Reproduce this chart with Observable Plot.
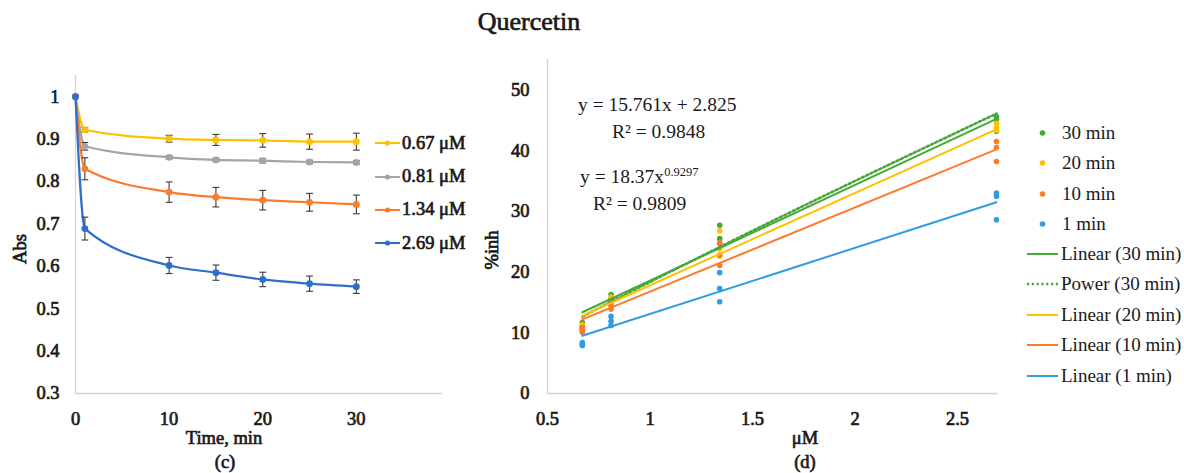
<!DOCTYPE html>
<html>
<head>
<meta charset="utf-8">
<script src="https://cdn.jsdelivr.net/npm/d3@7"></script>
<script src="https://cdn.jsdelivr.net/npm/@observablehq/plot@0.6"></script>
<style>
  html, body { margin: 0; padding: 0; background: #fff; }
  #wrap { position: relative; width: 1184px; height: 473px; overflow: hidden; background: #fff;
          font-family: "Liberation Serif", serif; color: #1a1a1a; }
  .abs { position: absolute; white-space: nowrap; }
  .bold { font-weight: normal; -webkit-text-stroke: 0.7px #1a1a1a; }
  .ctr { transform: translate(-50%, -50%); }
  .rot { transform: translate(-50%, -50%) rotate(-90deg); }
  .eq { font-size: 19.5px; line-height: 22px; }
  .eq sup { font-size: 12.5px; vertical-align: 7px; line-height: 0; }
  .leg { position: absolute; display: flex; align-items: center; white-space: nowrap; }
  #wrap svg { position: absolute; top: 0; }
  #wrap svg text { stroke: #1a1a1a; stroke-width: 0.7px; }
</style>
</head>
<body>
<div id="wrap"></div>
<script>
// ---------- Panel (c): absorbance vs time ----------
const timesC = [0, 1, 10, 15, 20, 25, 30];
const seriesC = ["0.67 μM", "0.81 μM", "1.34 μM", "2.69 μM"];
const colorsC = ["#ffc000", "#a5a5a5", "#fb7b2e", "#2d6fcb"];
const abs067 = [1, 0.922, 0.901, 0.898, 0.897, 0.894, 0.894];
const err067 = [0, 0.005, 0.008, 0.013, 0.016, 0.018, 0.020];
const abs081 = [1, 0.883, 0.857, 0.851, 0.849, 0.846, 0.845];
const err081 = [0, 0.009, 0.004, 0.004, 0.005, 0.004, 0.004];
const abs134 = [1, 0.830, 0.775, 0.763, 0.756, 0.751, 0.746];
const err134 = [0, 0.026, 0.024, 0.023, 0.023, 0.021, 0.022];
const abs269 = [1, 0.689, 0.602, 0.585, 0.569, 0.559, 0.552];
const err269 = [0, 0.027, 0.019, 0.018, 0.017, 0.018, 0.016];
const yTicksC = [0.3, 0.4, 0.5, 0.6, 0.7, 0.8, 0.9, 1];
const xTicksC = [0, 10, 20, 30];

// ---------- Panel (d): %inhibition vs concentration ----------
const concs = [0.67, 0.81, 1.34, 2.69];
const seriesD = ["30 min", "20 min", "10 min", "1 min"];
const colorsD = ["#47a83a", "#ffc000", "#fb7b2e", "#2f9de0"];
const inh30 = [[11.7, 11.0, 10.6], [16.3, 15.6, 15.2], [27.7, 25.5, 24.7], [45.6, 45.1, 43.2]];
const inh20 = [[11.3, 10.8, 10.4], [15.9, 15.0, 14.6], [26.8, 23.8, 22.6], [44.5, 43.8, 43.3]];
const inh10 = [[10.9, 10.4, 10.1], [15.2, 14.5, 13.9], [24.8, 22.8, 21.1], [41.5, 40.5, 38.2]];
const inh1  = [[8.4, 8.1, 7.9], [12.7, 11.9, 11.2], [19.9, 17.3, 15.1], [33.0, 32.5, 28.6]];
const trendX = [0.67, 2.69];
const lin30 = [13.38, 45.22];
const lin20 = [12.8, 43.5];
const lin10 = [12.2, 40.2];
const lin1  = [9.5, 31.5];
const pow30 = [12.66, 15.10, 24.12, 46.09];
const trendNames = ["Linear (30 min)", "Power (30 min)", "Linear (20 min)", "Linear (10 min)", "Linear (1 min)"];
const trendColors = ["#47a83a", "#47a83a", "#ffc000", "#fb7b2e", "#2f9de0"];
const yTicksD = [0, 10, 20, 30, 40, 50];
const xTicksD = [0.5, 1, 1.5, 2, 2.5];

// ---------- build tables ----------
const absSets = [abs067, abs081, abs134, abs269];
const errSets = [err067, err081, err134, err269];
const tableC = [];
seriesC.forEach((s, i) => timesC.forEach((t, j) => tableC.push({series: s, t, v: absSets[i][j], e: errSets[i][j]})));
const errRows = tableC.filter(d => d.e > 0);
const caps = errRows.flatMap(d => [{t: d.t, y: d.v - d.e}, {t: d.t, y: d.v + d.e}]);

const inhSets = [inh30, inh20, inh10, inh1];
const tableD = [];
seriesD.forEach((s, i) => concs.forEach((c, j) => inhSets[i][j].forEach(v => tableD.push({series: s, x: c, y: v}))));
const linSets = [lin30, lin20, lin10, lin1];
const trendTable = [];
seriesD.forEach((s, i) => trendX.forEach((x, j) => trendTable.push({series: s, x, y: linSets[i][j]})));
const powTable = concs.map((x, j) => ({x, y: pow30[j]}));

const capSymbol = { draw(ctx, size) { const r = Math.sqrt(size / Math.PI); ctx.moveTo(-r, 0); ctx.lineTo(r, 0); } };

const fontFam = '"Liberation Serif", serif';
const axisGray = "#d4d4d4";

const plotC = Plot.plot({
  width: 480, height: 473,
  marginLeft: 75, marginRight: 38, marginTop: 75, marginBottom: 80,
  x: {domain: [0, 39.2]},
  y: {domain: [0.3, 1.05]},
  color: {domain: seriesC, range: colorsC},
  style: {fontFamily: fontFam, fontSize: "18.5px", fontWeight: "normal", color: "#1a1a1a", background: "transparent", overflow: "visible"},
  marks: [
    Plot.ruleX([0], {stroke: axisGray, strokeWidth: 1.3}),
    Plot.ruleY([0.3], {stroke: axisGray, strokeWidth: 1.3}),
    Plot.axisY({ticks: yTicksC, tickSize: 0, tickPadding: 16, label: null, tickFormat: d => String(d)}),
    Plot.axisX({ticks: xTicksC, tickSize: 0, tickPadding: 18, label: null, tickFormat: d => String(d)}),
    Plot.line(tableC, {x: "t", y: "v", stroke: "series", z: "series", curve: "monotone-x", strokeWidth: 2.2}),
    Plot.link(errRows, {x1: "t", x2: "t", y1: d => d.v - d.e, y2: d => d.v + d.e, stroke: "#3a3a3a", strokeWidth: 1.1}),
    Plot.dot(caps, {x: "t", y: "y", symbol: capSymbol, r: 3.4, stroke: "#3a3a3a", strokeWidth: 1.1, fill: "none"}),
    Plot.dot(tableC, {x: "t", y: "v", fill: "series", r: 3.4})
  ]
});

const plotD = Plot.plot({
  width: 704, height: 473,
  marginLeft: 67, marginRight: 186, marginTop: 59, marginBottom: 80,
  x: {domain: [0.5, 2.7]},
  y: {domain: [0, 55]},
  color: {domain: seriesD, range: colorsD},
  style: {fontFamily: fontFam, fontSize: "18.5px", fontWeight: "normal", color: "#1a1a1a", background: "transparent", overflow: "visible"},
  marks: [
    Plot.ruleX([0.5], {stroke: axisGray, strokeWidth: 1.3}),
    Plot.ruleY([0], {stroke: axisGray, strokeWidth: 1.3}),
    Plot.axisY({ticks: yTicksD, tickSize: 0, tickPadding: 18, label: null, tickFormat: d => String(d)}),
    Plot.axisX({ticks: xTicksD, tickSize: 0, tickPadding: 18, label: null, tickFormat: d => String(d)}),
    Plot.dot(tableD, {x: "x", y: "y", fill: "series", r: 2.8}),
    Plot.line(trendTable.filter(d => d.series === "30 min"), {x: "x", y: "y", stroke: "series", strokeWidth: 2}),
    Plot.line(powTable, {x: "x", y: "y", stroke: colorsD[0], strokeWidth: 2.6, strokeDasharray: "2.2 2.6", curve: "monotone-x"}),
    Plot.line(trendTable.filter(d => d.series !== "30 min"), {x: "x", y: "y", stroke: "series", z: "series", strokeWidth: 2})
  ]
});
plotD.style.left = "480px";
plotC.style.left = "0px";

const wrap = document.getElementById("wrap");
wrap.appendChild(plotC);
wrap.appendChild(plotD);

function addText(html, left, top, cls, size) {
  const d = document.createElement("div");
  d.className = "abs " + cls;
  d.style.left = left + "px";
  d.style.top = top + "px";
  if (size) d.style.fontSize = size + "px";
  d.innerHTML = html;
  wrap.appendChild(d);
  return d;
}
// titles and captions
addText("Quercetin", 529, 22, "bold ctr", 26);
addText("Time, min", 224, 438, "bold ctr", 18.5);
addText("(c)", 225, 462, "bold ctr", 18.5);
addText("μM", 805, 438, "bold ctr", 18.5);
addText("(d)", 805, 462, "bold ctr", 18.5);
addText("Abs", 20, 249, "bold rot", 18.5);
addText("%inh", 492, 250, "bold rot", 18.5);
// equations
addText("y = 15.761x + 2.825", 578, 94, "eq");
addText("R² = 0.9848", 612, 121, "eq");
addText("y = 18.37x<sup>0.9297</sup>", 580, 166, "eq");
addText("R² = 0.9809", 593, 193, "eq");

// legends
function legendItem(left, centerY, w, color, label, opts) {
  const d = document.createElement("div");
  d.className = "leg" + (opts.bold ? " bold" : "");
  d.style.left = left + "px";
  d.style.top = (centerY - 12) + "px";
  d.style.height = "24px";
  d.style.fontSize = opts.size + "px";
  let svg = `<svg width="${w}" height="24" style="position:static;display:block">`;
  if (opts.line) svg += `<line x1="0" x2="${w}" y1="12" y2="12" stroke="${color}" stroke-width="${opts.dash ? 2.6 : 2}" ${opts.dash ? 'stroke-dasharray="2.2 2.6"' : ''}/>`;
  if (opts.dot) svg += `<circle cx="${w / 2}" cy="12" r="${opts.r}" fill="${color}"/>`;
  svg += `</svg>`;
  d.innerHTML = svg + `<span style="margin-left:${opts.gap}px">${label}</span>`;
  wrap.appendChild(d);
}
seriesC.forEach((s, i) => legendItem(375, 143.3 + i * 33.3, 25, colorsC[i], s, {line: true, dot: true, r: 2.6, size: 18.5, bold: true, gap: 2}));
seriesD.forEach((s, i) => legendItem(1027, 132.7 + i * 30.4, 31, colorsD[i], s, {line: false, dot: true, r: 2.8, size: 19, gap: 4}));
trendNames.forEach((s, i) => legendItem(1027, 254 + i * 30.4, 31, trendColors[i], s, {line: true, dot: false, dash: i === 1, size: 19, gap: 3}));
</script>
</body>
</html>
